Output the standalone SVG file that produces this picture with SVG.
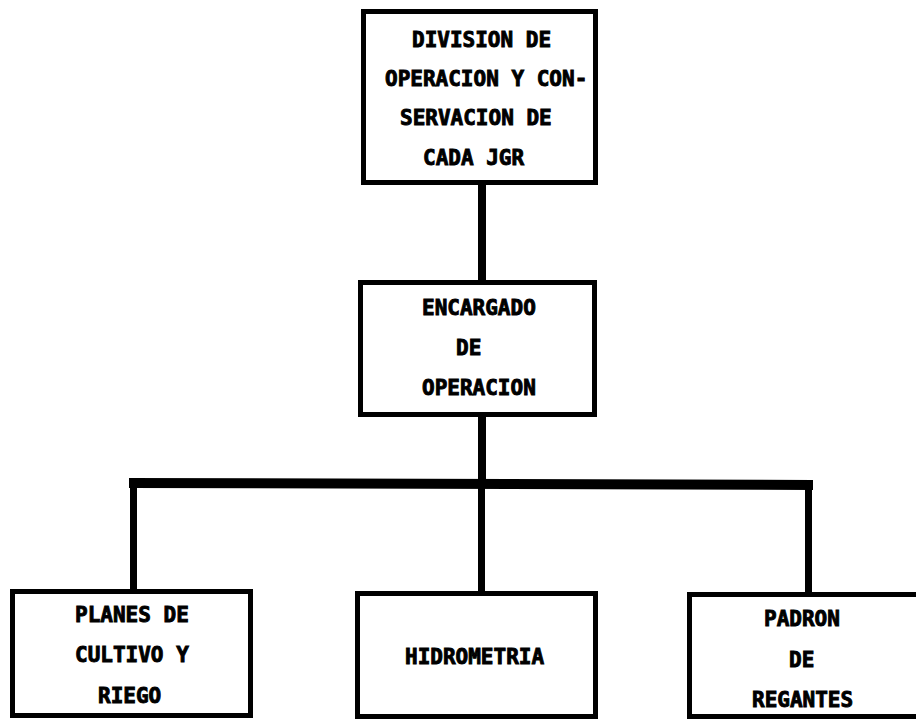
<svg xmlns="http://www.w3.org/2000/svg" width="916" height="722" viewBox="0 0 916 722">
<style>
.box{fill:#fff;stroke:#000;stroke-width:5}
.t{font-family:"DejaVu Sans Mono","Liberation Mono",monospace;font-weight:bold;font-size:21px;fill:#000;stroke:#000;stroke-width:0.9}
.c{fill:#000}
</style>
<rect width="916" height="722" fill="#fff"/>
<g id="connectors">
<rect class="c" x="478" y="183" width="8" height="100"/>
<rect class="c" x="478" y="415" width="8" height="70"/>
<polygon class="c" points="129,478 813,480 813,490 129,488"/>
<rect class="c" x="130" y="484" width="7" height="109"/>
<rect class="c" x="478" y="484" width="7" height="111"/>
<rect class="c" x="805" y="486" width="7" height="110"/>
</g>
<g id="n-division">
<rect class="box" x="363.5" y="11.5" width="232" height="171"/>
<text class="t" x="412" y="47">DIVISION DE</text>
<text class="t" x="385" y="86">OPERACION Y CON-</text>
<text class="t" x="400" y="125">SERVACION DE</text>
<text class="t" x="423" y="165">CADA JGR</text>
</g>
<g id="n-encargado">
<rect class="box" x="360.5" y="282.5" width="234" height="132"/>
<text class="t" x="422" y="315">ENCARGADO</text>
<text class="t" x="456" y="355">DE</text>
<text class="t" x="422" y="395">OPERACION</text>
</g>
<g id="n-planes">
<rect class="box" x="12.5" y="591.5" width="238" height="124"/>
<text class="t" x="75" y="622">PLANES DE</text>
<text class="t" x="75" y="662">CULTIVO Y</text>
<text class="t" x="98" y="703">RIEGO</text>
</g>
<g id="n-hidrometria">
<rect class="box" x="357.5" y="593.5" width="238" height="123"/>
<text class="t" x="405" y="664">HIDROMETRIA</text>
</g>
<g id="n-padron">
<rect class="box" x="689.5" y="594.5" width="240" height="122"/>
<text class="t" x="764" y="626">PADRON</text>
<text class="t" x="789" y="667">DE</text>
<text class="t" x="752" y="707">REGANTES</text>
</g>
</svg>
